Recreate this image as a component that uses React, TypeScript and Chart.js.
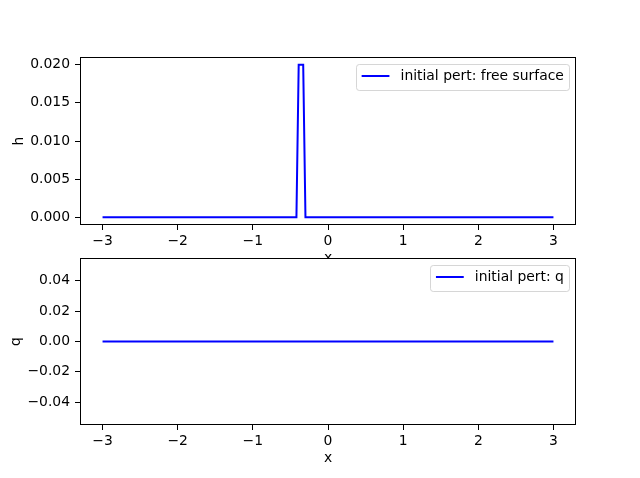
import React, { useEffect, useRef } from "react";
import { Chart, registerables } from "chart.js";

Chart.register(...registerables);

// ---- data ----
const xPulse = [-3, -0.42, -0.39, -0.33, -0.3, 3];
const hValues = [0, 0, 0.02, 0.02, 0, 0];
const xFlat = [-3, 3];
const qValues = [0, 0];
const xTicks = [-3, -2, -1, 0, 1, 2, 3];
const hTicks = [0, 0.005, 0.01, 0.015, 0.02];
const qTicks = [-0.04, -0.02, 0, 0.02, 0.04];
const xLabel = "x";
const hLabel = "h";
const qLabel = "q";
const hLegend = "initial pert: free surface";
const qLegend = "initial pert: q";

const FONT_FAMILY = '"DejaVu Sans", "Liberation Sans", sans-serif';
const FS = 13.9;
const FONT = `${FS}px ${FONT_FAMILY}`;

const minus = (s: string) => s.replace("-", "\u2212");

const decorPlugin = {
  id: "mplDecor",
  beforeDraw(chart: any, _args: any, opts: any) {
    if (opts.fillBg) {
      const { ctx, chartArea: a } = chart;
      ctx.save();
      ctx.fillStyle = "#ffffff";
      ctx.fillRect(a.left, a.top, a.right - a.left, a.bottom - a.top);
      ctx.restore();
    }
  },
  afterDraw(chart: any, _args: any, opts: any) {
    const { ctx, chartArea: a } = chart;
    ctx.save();
    // frame
    ctx.strokeStyle = "#000000";
    ctx.lineWidth = 1;
    const l = Math.round(a.left) + 0.5;
    const t = Math.round(a.top) + 0.5;
    const r = Math.round(a.right) - 0.5;
    const b = Math.round(a.bottom) - 0.5;
    ctx.strokeRect(l, t, r - l, b - t);

    // axis labels
    ctx.fillStyle = "#000000";
    ctx.font = FONT;
    ctx.textAlign = "center";
    ctx.textBaseline = "alphabetic";
    ctx.fillText(opts.xlabel, (a.left + a.right) / 2, a.bottom + 36.7);
    ctx.save();
    ctx.translate(opts.ylabelX, (a.top + a.bottom) / 2);
    ctx.rotate(-Math.PI / 2);
    ctx.fillText(opts.ylabel, 0, 0);
    ctx.restore();

    // legend
    const tw = ctx.measureText(opts.legend).width;
    const boxW = 44.5 + tw + 5.6;
    const boxH = 26;
    const bx = a.right - 6.5 - boxW;
    const by = a.top + 6.5;
    ctx.beginPath();
    if ((ctx as any).roundRect) {
      (ctx as any).roundRect(Math.round(bx) + 0.5, Math.round(by) + 0.5, Math.round(boxW), boxH, 2.8);
    } else {
      ctx.rect(Math.round(bx) + 0.5, Math.round(by) + 0.5, Math.round(boxW), boxH);
    }
    ctx.fillStyle = "rgba(255,255,255,0.8)";
    ctx.fill();
    ctx.strokeStyle = "rgba(204,204,204,0.8)";
    ctx.lineWidth = 1;
    ctx.stroke();
    const ly = by + 12.5;
    ctx.beginPath();
    ctx.moveTo(bx + 5.6, ly);
    ctx.lineTo(bx + 5.6 + 27.8, ly);
    ctx.strokeStyle = "#0000ff";
    ctx.lineWidth = 2;
    ctx.stroke();
    ctx.fillStyle = "#000000";
    ctx.textAlign = "left";
    ctx.textBaseline = "middle";
    ctx.fillText(opts.legend, bx + 44.5, ly + 0.5);
    ctx.restore();
  },
};

function makeConfig(
  xs: number[],
  ys: number[],
  yTicks: number[],
  yMin: number,
  yMax: number,
  decimals: number,
  ylabel: string,
  ylabelX: number,
  legend: string,
  padding: any,
  fillBg: boolean
): any {
  const tickFont = { family: FONT_FAMILY, size: FS };
  return {
    type: "line",
    data: {
      datasets: [
        {
          label: legend,
          data: xs.map((x, i) => ({ x, y: ys[i] })),
          borderColor: "#0000ff",
          borderWidth: 2,
          pointRadius: 0,
          tension: 0,
          fill: false,
        },
      ],
    },
    options: {
      responsive: false,
      animation: false,
      devicePixelRatio: 1,
      layout: { padding },
      plugins: {
        legend: { display: false },
        tooltip: { enabled: false },
        mplDecor: { xlabel: xLabel, ylabel, ylabelX, legend, fillBg },
      },
      scales: {
        x: {
          type: "linear",
          min: -3.3,
          max: 3.3,
          afterBuildTicks: (s: any) => {
            s.ticks = xTicks.map((v) => ({ value: v }));
          },
          afterFit: (s: any) => {
            s.height = 40;
          },
          ticks: {
            font: tickFont,
            color: "#000000",
            padding: 3,
            maxRotation: 0,
            autoSkip: false,
            callback: (v: number) => minus(String(v)),
          },
          grid: {
            drawOnChartArea: false,
            drawTicks: true,
            tickLength: 5,
            color: "#000000",
            lineWidth: 1,
          },
          border: { display: false },
        },
        y: {
          type: "linear",
          min: yMin,
          max: yMax,
          afterBuildTicks: (s: any) => {
            s.ticks = yTicks.map((v) => ({ value: v }));
          },
          afterFit: (s: any) => {
            s.width = 80;
          },
          ticks: {
            font: tickFont,
            color: "#000000",
            padding: 5,
            autoSkip: false,
            callback: (v: number) => minus(Number(v).toFixed(decimals)),
          },
          grid: {
            drawOnChartArea: false,
            drawTicks: true,
            tickLength: 5,
            color: "#000000",
            lineWidth: 1,
          },
          border: { display: false },
        },
      },
    },
    plugins: [decorPlugin],
  };
}

export default function App() {
  const topRef = useRef<HTMLCanvasElement>(null);
  const botRef = useRef<HTMLCanvasElement>(null);

  useEffect(() => {
    const c1 = new Chart(
      topRef.current!,
      makeConfig(xPulse, hValues, hTicks, -0.001, 0.021, 3, hLabel, 22.7, hLegend,
        { left: 0, right: 64, top: 57, bottom: 478 - 225 - 40 }, false)
    );
    const c2 = new Chart(
      botRef.current!,
      makeConfig(xFlat, qValues, qTicks, -0.055, 0.055, 2, qLabel, 20.4, qLegend,
        { left: 0, right: 64, top: 258, bottom: 478 - 425 - 40 }, true)
    );
    return () => {
      c1.destroy();
      c2.destroy();
    };
  }, []);

  return (
    <div style={{ position: "absolute", left: 0, top: 0, width: 640, height: 478, background: "#ffffff" }}>
      <canvas ref={topRef} width={640} height={478} style={{ position: "absolute", left: 0, top: 0 }} />
      <canvas ref={botRef} width={640} height={478} style={{ position: "absolute", left: 0, top: 0 }} />
    </div>
  );
}
